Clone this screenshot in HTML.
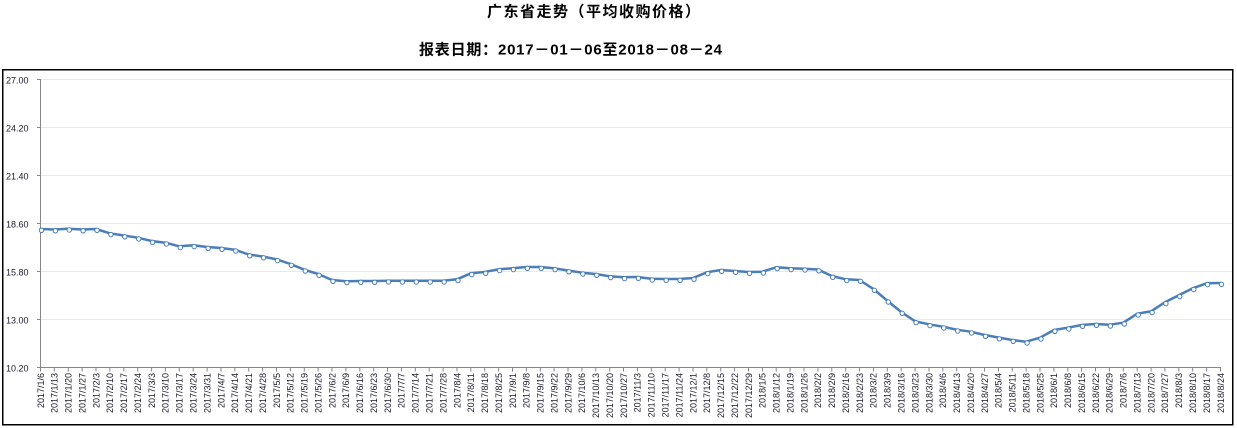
<!DOCTYPE html>
<html><head><meta charset="utf-8"><style>
html,body{margin:0;padding:0;background:#fff;}
svg{display:block;}
</style></head><body>
<svg width="1237" height="428" viewBox="0 0 1237 428" xmlns="http://www.w3.org/2000/svg">
<rect x="0" y="0" width="1237" height="428" fill="#fff"/>
<text x="487" y="16.3" textLength="213" lengthAdjust="spacing" font-family="'Liberation Sans','Noto Sans CJK SC',sans-serif" font-size="15" font-weight="bold" fill="#000">广东省走势（平均收购价格）</text>
<text x="419" y="54.5" textLength="303" lengthAdjust="spacing" font-family="'Liberation Sans','Noto Sans CJK SC',sans-serif" font-size="15" font-weight="bold" fill="#000">报表日期：2017－01－06至2018－08－24</text>
<rect x="2.75" y="69.75" width="1230" height="355" fill="none" stroke="#000" stroke-width="1.5"/>
<g stroke="#e8e8ef" stroke-width="1">
<line x1="40" y1="79.5" x2="1232" y2="79.5"/>
<line x1="40" y1="127.5" x2="1232" y2="127.5"/>
<line x1="40" y1="175.5" x2="1232" y2="175.5"/>
<line x1="40" y1="223.5" x2="1232" y2="223.5"/>
<line x1="40" y1="271.5" x2="1232" y2="271.5"/>
<line x1="40" y1="319.5" x2="1232" y2="319.5"/>
</g>
<g stroke="#868686" stroke-width="1" fill="none">
<line x1="40.5" y1="79" x2="40.5" y2="368"/>
<line x1="40" y1="367.5" x2="1221" y2="367.5"/>
<path d="M37 79.5H40.5M37 127.5H40.5M37 175.5H40.5M37 223.5H40.5M37 271.5H40.5M37 319.5H40.5M37 367.5H40.5"/>
<path d="M40.5 367.5V371.5M54.4 367.5V371.5M68.3 367.5V371.5M82.1 367.5V371.5M96 367.5V371.5M109.9 367.5V371.5M123.8 367.5V371.5M137.7 367.5V371.5M151.6 367.5V371.5M165.4 367.5V371.5M179.3 367.5V371.5M193.2 367.5V371.5M207.1 367.5V371.5M221 367.5V371.5M234.8 367.5V371.5M248.7 367.5V371.5M262.6 367.5V371.5M276.5 367.5V371.5M290.4 367.5V371.5M304.3 367.5V371.5M318.1 367.5V371.5M332 367.5V371.5M345.9 367.5V371.5M359.8 367.5V371.5M373.7 367.5V371.5M387.5 367.5V371.5M401.4 367.5V371.5M415.3 367.5V371.5M429.2 367.5V371.5M443.1 367.5V371.5M457 367.5V371.5M470.8 367.5V371.5M484.7 367.5V371.5M498.6 367.5V371.5M512.5 367.5V371.5M526.4 367.5V371.5M540.3 367.5V371.5M554.1 367.5V371.5M568 367.5V371.5M581.9 367.5V371.5M595.8 367.5V371.5M609.7 367.5V371.5M623.5 367.5V371.5M637.4 367.5V371.5M651.3 367.5V371.5M665.2 367.5V371.5M679.1 367.5V371.5M693 367.5V371.5M706.8 367.5V371.5M720.7 367.5V371.5M734.6 367.5V371.5M748.5 367.5V371.5M762.4 367.5V371.5M776.2 367.5V371.5M790.1 367.5V371.5M804 367.5V371.5M817.9 367.5V371.5M831.8 367.5V371.5M845.7 367.5V371.5M859.5 367.5V371.5M873.4 367.5V371.5M887.3 367.5V371.5M901.2 367.5V371.5M915.1 367.5V371.5M929 367.5V371.5M942.8 367.5V371.5M956.7 367.5V371.5M970.6 367.5V371.5M984.5 367.5V371.5M998.4 367.5V371.5M1012.2 367.5V371.5M1026.1 367.5V371.5M1040 367.5V371.5M1053.9 367.5V371.5M1067.8 367.5V371.5M1081.6 367.5V371.5M1095.5 367.5V371.5M1109.4 367.5V371.5M1123.3 367.5V371.5M1137.2 367.5V371.5M1151.1 367.5V371.5M1164.9 367.5V371.5M1178.8 367.5V371.5M1192.7 367.5V371.5M1206.6 367.5V371.5M1220.5 367.5V371.5"/>
</g>
<g font-family="'Liberation Sans',sans-serif" font-size="9" fill="#1a1a2a" text-anchor="end">
<text x="28.5" y="83.3">27.00</text>
<text x="28.5" y="131.3">24.20</text>
<text x="28.5" y="179.3">21.40</text>
<text x="28.5" y="227.3">18.60</text>
<text x="28.5" y="275.3">15.80</text>
<text x="28.5" y="323.3">13.00</text>
<text x="28.5" y="371.3">10.20</text>
</g>
<g font-family="'Liberation Sans',sans-serif" font-size="9" fill="#1a1a2a" text-anchor="end">
<text transform="translate(43.8,373) rotate(-90)">2017/1/6</text>
<text transform="translate(57.7,373) rotate(-90)">2017/1/13</text>
<text transform="translate(71.6,373) rotate(-90)">2017/1/20</text>
<text transform="translate(85.4,373) rotate(-90)">2017/1/27</text>
<text transform="translate(99.3,373) rotate(-90)">2017/2/3</text>
<text transform="translate(113.2,373) rotate(-90)">2017/2/10</text>
<text transform="translate(127.1,373) rotate(-90)">2017/2/17</text>
<text transform="translate(141,373) rotate(-90)">2017/2/24</text>
<text transform="translate(154.9,373) rotate(-90)">2017/3/3</text>
<text transform="translate(168.7,373) rotate(-90)">2017/3/10</text>
<text transform="translate(182.6,373) rotate(-90)">2017/3/17</text>
<text transform="translate(196.5,373) rotate(-90)">2017/3/24</text>
<text transform="translate(210.4,373) rotate(-90)">2017/3/31</text>
<text transform="translate(224.3,373) rotate(-90)">2017/4/7</text>
<text transform="translate(238.1,373) rotate(-90)">2017/4/14</text>
<text transform="translate(252,373) rotate(-90)">2017/4/21</text>
<text transform="translate(265.9,373) rotate(-90)">2017/4/28</text>
<text transform="translate(279.8,373) rotate(-90)">2017/5/5</text>
<text transform="translate(293.7,373) rotate(-90)">2017/5/12</text>
<text transform="translate(307.6,373) rotate(-90)">2017/5/19</text>
<text transform="translate(321.4,373) rotate(-90)">2017/5/26</text>
<text transform="translate(335.3,373) rotate(-90)">2017/6/2</text>
<text transform="translate(349.2,373) rotate(-90)">2017/6/9</text>
<text transform="translate(363.1,373) rotate(-90)">2017/6/16</text>
<text transform="translate(377,373) rotate(-90)">2017/6/23</text>
<text transform="translate(390.8,373) rotate(-90)">2017/6/30</text>
<text transform="translate(404.7,373) rotate(-90)">2017/7/7</text>
<text transform="translate(418.6,373) rotate(-90)">2017/7/14</text>
<text transform="translate(432.5,373) rotate(-90)">2017/7/21</text>
<text transform="translate(446.4,373) rotate(-90)">2017/7/28</text>
<text transform="translate(460.3,373) rotate(-90)">2017/8/4</text>
<text transform="translate(474.1,373) rotate(-90)">2017/8/11</text>
<text transform="translate(488,373) rotate(-90)">2017/8/18</text>
<text transform="translate(501.9,373) rotate(-90)">2017/8/25</text>
<text transform="translate(515.8,373) rotate(-90)">2017/9/1</text>
<text transform="translate(529.7,373) rotate(-90)">2017/9/8</text>
<text transform="translate(543.6,373) rotate(-90)">2017/9/15</text>
<text transform="translate(557.4,373) rotate(-90)">2017/9/22</text>
<text transform="translate(571.3,373) rotate(-90)">2017/9/29</text>
<text transform="translate(585.2,373) rotate(-90)">2017/10/6</text>
<text transform="translate(599.1,373) rotate(-90)">2017/10/13</text>
<text transform="translate(613,373) rotate(-90)">2017/10/20</text>
<text transform="translate(626.8,373) rotate(-90)">2017/10/27</text>
<text transform="translate(640.7,373) rotate(-90)">2017/11/3</text>
<text transform="translate(654.6,373) rotate(-90)">2017/11/10</text>
<text transform="translate(668.5,373) rotate(-90)">2017/11/17</text>
<text transform="translate(682.4,373) rotate(-90)">2017/11/24</text>
<text transform="translate(696.3,373) rotate(-90)">2017/12/1</text>
<text transform="translate(710.1,373) rotate(-90)">2017/12/8</text>
<text transform="translate(724,373) rotate(-90)">2017/12/15</text>
<text transform="translate(737.9,373) rotate(-90)">2017/12/22</text>
<text transform="translate(751.8,373) rotate(-90)">2017/12/29</text>
<text transform="translate(765.7,373) rotate(-90)">2018/1/5</text>
<text transform="translate(779.6,373) rotate(-90)">2018/1/12</text>
<text transform="translate(793.4,373) rotate(-90)">2018/1/19</text>
<text transform="translate(807.3,373) rotate(-90)">2018/1/26</text>
<text transform="translate(821.2,373) rotate(-90)">2018/2/2</text>
<text transform="translate(835.1,373) rotate(-90)">2018/2/9</text>
<text transform="translate(849,373) rotate(-90)">2018/2/16</text>
<text transform="translate(862.8,373) rotate(-90)">2018/2/23</text>
<text transform="translate(876.7,373) rotate(-90)">2018/3/2</text>
<text transform="translate(890.6,373) rotate(-90)">2018/3/9</text>
<text transform="translate(904.5,373) rotate(-90)">2018/3/16</text>
<text transform="translate(918.4,373) rotate(-90)">2018/3/23</text>
<text transform="translate(932.3,373) rotate(-90)">2018/3/30</text>
<text transform="translate(946.1,373) rotate(-90)">2018/4/6</text>
<text transform="translate(960,373) rotate(-90)">2018/4/13</text>
<text transform="translate(973.9,373) rotate(-90)">2018/4/20</text>
<text transform="translate(987.8,373) rotate(-90)">2018/4/27</text>
<text transform="translate(1001.7,373) rotate(-90)">2018/5/4</text>
<text transform="translate(1015.5,373) rotate(-90)">2018/5/11</text>
<text transform="translate(1029.4,373) rotate(-90)">2018/5/18</text>
<text transform="translate(1043.3,373) rotate(-90)">2018/5/25</text>
<text transform="translate(1057.2,373) rotate(-90)">2018/6/1</text>
<text transform="translate(1071.1,373) rotate(-90)">2018/6/8</text>
<text transform="translate(1085,373) rotate(-90)">2018/6/15</text>
<text transform="translate(1098.8,373) rotate(-90)">2018/6/22</text>
<text transform="translate(1112.7,373) rotate(-90)">2018/6/29</text>
<text transform="translate(1126.6,373) rotate(-90)">2018/7/6</text>
<text transform="translate(1140.5,373) rotate(-90)">2018/7/13</text>
<text transform="translate(1154.4,373) rotate(-90)">2018/7/20</text>
<text transform="translate(1168.2,373) rotate(-90)">2018/7/27</text>
<text transform="translate(1182.1,373) rotate(-90)">2018/8/3</text>
<text transform="translate(1196,373) rotate(-90)">2018/8/10</text>
<text transform="translate(1209.9,373) rotate(-90)">2018/8/17</text>
<text transform="translate(1223.8,373) rotate(-90)">2018/8/24</text>
</g>
<polyline fill="none" stroke="#4a7ebb" stroke-width="2.5" stroke-linejoin="round" stroke-linecap="round" points="40.5,229 54.4,229.5 68.3,228.7 82.1,229.5 96,229 109.9,233.3 123.8,235.5 137.7,237.7 151.6,241 165.4,242.7 179.3,246.3 193.2,245.3 207.1,247 221,248 234.8,249.7 248.7,254.5 262.6,256.5 276.5,259.3 290.4,264 304.3,269.7 318.1,274 332,280 345.9,281.3 359.8,281 373.7,281 387.5,280.7 401.4,280.7 415.3,280.7 429.2,280.7 443.1,280.7 457,279.3 470.8,273.3 484.7,272 498.6,269.3 512.5,268.3 526.4,267 540.3,267 554.1,268.3 568,270.5 581.9,272.7 595.8,274 609.7,276.3 623.5,277.3 637.4,277 651.3,278.7 665.2,279 679.1,279 693,278 706.8,272.3 720.7,270 734.6,271 748.5,272 762.4,271.7 776.2,267.3 790.1,268.3 804,268.7 817.9,269.5 831.8,276 845.7,279.3 859.5,280 873.4,289 887.3,300.7 901.2,312 915.1,321.3 929,324.3 942.8,326.7 956.7,329.7 970.6,331.7 984.5,335 998.4,337.5 1012.2,340 1026.1,341.7 1040,337.7 1053.9,330 1067.8,327.7 1081.6,325 1095.5,324 1109.4,324.7 1123.3,322.7 1137.2,313.7 1151.1,311.3 1164.9,302.3 1178.8,295.3 1192.7,288.3 1206.6,283.3 1220.5,283"/>
<g fill="#fff" stroke="#4a7ebb" stroke-width="1">
<circle cx="41.5" cy="230.3" r="2.2"/><circle cx="55.4" cy="230.8" r="2.2"/><circle cx="69.3" cy="230" r="2.2"/><circle cx="83.1" cy="230.8" r="2.2"/><circle cx="97" cy="230.3" r="2.2"/><circle cx="110.9" cy="234.6" r="2.2"/><circle cx="124.8" cy="236.8" r="2.2"/><circle cx="138.7" cy="239" r="2.2"/><circle cx="152.6" cy="242.3" r="2.2"/><circle cx="166.4" cy="244" r="2.2"/><circle cx="180.3" cy="247.6" r="2.2"/><circle cx="194.2" cy="246.6" r="2.2"/><circle cx="208.1" cy="248.3" r="2.2"/><circle cx="222" cy="249.3" r="2.2"/><circle cx="235.8" cy="251" r="2.2"/><circle cx="249.7" cy="255.8" r="2.2"/><circle cx="263.6" cy="257.8" r="2.2"/><circle cx="277.5" cy="260.6" r="2.2"/><circle cx="291.4" cy="265.3" r="2.2"/><circle cx="305.3" cy="271" r="2.2"/><circle cx="319.1" cy="275.3" r="2.2"/><circle cx="333" cy="281.3" r="2.2"/><circle cx="346.9" cy="282.6" r="2.2"/><circle cx="360.8" cy="282.3" r="2.2"/><circle cx="374.7" cy="282.3" r="2.2"/><circle cx="388.5" cy="282" r="2.2"/><circle cx="402.4" cy="282" r="2.2"/><circle cx="416.3" cy="282" r="2.2"/><circle cx="430.2" cy="282" r="2.2"/><circle cx="444.1" cy="282" r="2.2"/><circle cx="458" cy="280.6" r="2.2"/><circle cx="471.8" cy="274.6" r="2.2"/><circle cx="485.7" cy="273.3" r="2.2"/><circle cx="499.6" cy="270.6" r="2.2"/><circle cx="513.5" cy="269.6" r="2.2"/><circle cx="527.4" cy="268.3" r="2.2"/><circle cx="541.3" cy="268.3" r="2.2"/><circle cx="555.1" cy="269.6" r="2.2"/><circle cx="569" cy="271.8" r="2.2"/><circle cx="582.9" cy="274" r="2.2"/><circle cx="596.8" cy="275.3" r="2.2"/><circle cx="610.7" cy="277.6" r="2.2"/><circle cx="624.5" cy="278.6" r="2.2"/><circle cx="638.4" cy="278.3" r="2.2"/><circle cx="652.3" cy="280" r="2.2"/><circle cx="666.2" cy="280.3" r="2.2"/><circle cx="680.1" cy="280.3" r="2.2"/><circle cx="694" cy="279.3" r="2.2"/><circle cx="707.8" cy="273.6" r="2.2"/><circle cx="721.7" cy="271.3" r="2.2"/><circle cx="735.6" cy="272.3" r="2.2"/><circle cx="749.5" cy="273.3" r="2.2"/><circle cx="763.4" cy="273" r="2.2"/><circle cx="777.2" cy="268.6" r="2.2"/><circle cx="791.1" cy="269.6" r="2.2"/><circle cx="805" cy="270" r="2.2"/><circle cx="818.9" cy="270.8" r="2.2"/><circle cx="832.8" cy="277.3" r="2.2"/><circle cx="846.7" cy="280.6" r="2.2"/><circle cx="860.5" cy="281.3" r="2.2"/><circle cx="874.4" cy="290.3" r="2.2"/><circle cx="888.3" cy="302" r="2.2"/><circle cx="902.2" cy="313.3" r="2.2"/><circle cx="916.1" cy="322.6" r="2.2"/><circle cx="930" cy="325.6" r="2.2"/><circle cx="943.8" cy="328" r="2.2"/><circle cx="957.7" cy="331" r="2.2"/><circle cx="971.6" cy="333" r="2.2"/><circle cx="985.5" cy="336.3" r="2.2"/><circle cx="999.4" cy="338.8" r="2.2"/><circle cx="1013.2" cy="341.3" r="2.2"/><circle cx="1027.1" cy="343" r="2.2"/><circle cx="1041" cy="339" r="2.2"/><circle cx="1054.9" cy="331.3" r="2.2"/><circle cx="1068.8" cy="329" r="2.2"/><circle cx="1082.6" cy="326.3" r="2.2"/><circle cx="1096.5" cy="325.3" r="2.2"/><circle cx="1110.4" cy="326" r="2.2"/><circle cx="1124.3" cy="324" r="2.2"/><circle cx="1138.2" cy="315" r="2.2"/><circle cx="1152.1" cy="312.6" r="2.2"/><circle cx="1165.9" cy="303.6" r="2.2"/><circle cx="1179.8" cy="296.6" r="2.2"/><circle cx="1193.7" cy="289.6" r="2.2"/><circle cx="1207.6" cy="284.6" r="2.2"/><circle cx="1221.5" cy="284.3" r="2.2"/>
</g>
</svg>
</body></html>
